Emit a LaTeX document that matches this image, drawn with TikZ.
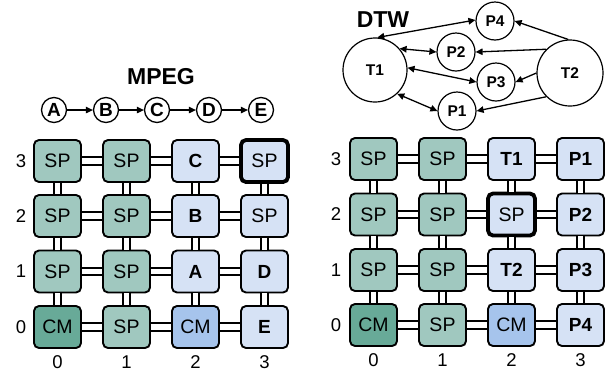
\documentclass[tikz,border=0pt]{standalone}
\usepackage{fontspec}
\setmainfont{Liberation Sans}
\usetikzlibrary{arrows.meta}

\definecolor{spgreen}{RGB}{160,200,191}
\definecolor{cmgreen}{RGB}{104,170,152}
\definecolor{tileblue}{RGB}{214,226,245}
\definecolor{cmblue}{RGB}{166,196,236}

\tikzset{
  tile/.style={draw=black, line width=1.9pt, rounded corners=5pt,
    minimum width=47pt, minimum height=42pt, inner sep=0pt,
    font=\fontsize{19.5}{21}\selectfont},
  sp/.style={tile, fill=spgreen},
  cmg/.style={tile, fill=cmgreen},
  lb/.style={tile, fill=tileblue},
  cmb/.style={tile, fill=cmblue},
  task/.style={font=\fontsize{19}{21}\selectfont\bfseries},
  hot/.style={line width=3.8pt},
  link/.style={draw=black, line width=1.9pt, double=white, double distance=5.6pt},
  axis/.style={font=\fontsize{18.5}{20}\selectfont},
  title/.style={font=\fontsize{23}{25}\selectfont\bfseries},
  stage/.style={circle, draw=black, line width=1.3pt, minimum size=25pt,
    inner sep=0pt, font=\fontsize{19}{21}\selectfont\bfseries},
  proc/.style={circle, draw=black, line width=1.2pt, inner sep=0pt,
    font=\fontsize{15.5}{17}\selectfont\bfseries},
  flow/.style={line width=1.3pt, -{Triangle[length=7pt,width=6.5pt]}},
  both/.style={line width=1.3pt, {Triangle[length=7pt,width=6.5pt]}-{Triangle[length=7pt,width=6.5pt]}},
}

\begin{document}
\begin{tikzpicture}[x=1pt,y=-1pt]
\useasboundingbox (0,0) rectangle (613,373);

% ---------------- MPEG pipeline ----------------
\node[title] (mpeg) at (161,77) {MPEG};
\node[stage] (sa) at (54,110) {A};
\node[stage] (sb) at (106,110) {B};
\node[stage] (sc) at (157,110) {C};
\node[stage] (sd) at (209,110) {D};
\node[stage] (se) at (261,110) {E};
\draw[flow] (sa) -- (sb);
\draw[flow] (sb) -- (sc);
\draw[flow] (sc) -- (sd);
\draw[flow] (sd) -- (se);

% ---------------- MPEG mesh ----------------
% columns x = 57.5, 126.5, 195.5, 264.5 ; rows y = 161, 216, 271.5, 327
\node[sp]  (l03) at (57.5,161) {SP};
\node[sp]  (l13) at (126.5,161) {SP};
\node[lb, task] (l23) at (195.5,161) {C};
\node[lb, hot] (l33) at (264.5,161) {SP};

\node[sp]  (l02) at (57.5,216) {SP};
\node[sp]  (l12) at (126.5,216) {SP};
\node[lb, task] (l22) at (195.5,216) {B};
\node[lb]  (l32) at (264.5,216) {SP};

\node[sp]  (l01) at (57.5,271.5) {SP};
\node[sp]  (l11) at (126.5,271.5) {SP};
\node[lb, task] (l21) at (195.5,271.5) {A};
\node[lb, task] (l31) at (264.5,271.5) {D};

\node[cmg] (l00) at (57.5,327) {CM};
\node[sp]  (l10) at (126.5,327) {SP};
\node[cmb] (l20) at (195.5,327) {CM};
\node[lb, task] (l30) at (264.5,327) {E};

\foreach \r in {0,...,3}{
  \draw[link] (l0\r.east) -- (l1\r.west);
  \draw[link] (l1\r.east) -- (l2\r.west);
  \draw[link] (l2\r.east) -- (l3\r.west);
}
\foreach \c in {0,...,3}{
  \draw[link] (l\c3.south) -- (l\c2.north);
  \draw[link] (l\c2.south) -- (l\c1.north);
  \draw[link] (l\c1.south) -- (l\c0.north);
}

\node[axis] (lr3) at (21,161) {3};
\node[axis] (lr2) at (21,216) {2};
\node[axis] (lr1) at (21,271.5) {1};
\node[axis] (lr0) at (21,327) {0};
\node[axis] (lc0) at (57.5,362) {0};
\node[axis] (lc1) at (126.5,362) {1};
\node[axis] (lc2) at (195.5,362) {2};
\node[axis] (lc3) at (264.5,362) {3};

% ---------------- DTW task graph ----------------
\node[title] (dtw) at (383,20) {DTW};
\node[proc, minimum size=64pt] (t1) at (375,70) {T1};
\node[proc, minimum size=66pt] (t2) at (570,73) {T2};
\node[proc, minimum size=38pt] (p4) at (495,21) {P4};
\node[proc, minimum size=38pt] (p2) at (456,52) {P2};
\node[proc, minimum size=38pt] (p3) at (496,82) {P3};
\node[proc, minimum size=38pt] (p1) at (457,111) {P1};

\draw[both] (t1.86) -- (p4.177);
\draw[both] (t1.41) -- (p2.west);
\draw[both] (t1.4) -- (p3.west);
\draw[both] (t1.-47) -- (p1.west);
\draw[flow] (t2.93) -- (p4.east);
\draw[flow] (t2.135) -- (p2.east);
\draw[flow] (t2.180) -- (p3.east);
\draw[flow] (t2.225) -- (p1.east);

% ---------------- DTW mesh ----------------
% columns x = 373.5, 442.5, 511.5, 580.5 ; rows y = 159, 214.5, 270, 325
\node[sp]  (r03) at (373.5,159) {SP};
\node[sp]  (r13) at (442.5,159) {SP};
\node[lb, task] (r23) at (511.5,159) {T1};
\node[lb, task] (r33) at (580.5,159) {P1};

\node[sp]  (r02) at (373.5,214.5) {SP};
\node[sp]  (r12) at (442.5,214.5) {SP};
\node[lb, hot] (r22) at (511.5,214.5) {SP};
\node[lb, task] (r32) at (580.5,214.5) {P2};

\node[sp]  (r01) at (373.5,270) {SP};
\node[sp]  (r11) at (442.5,270) {SP};
\node[lb, task] (r21) at (511.5,270) {T2};
\node[lb, task] (r31) at (580.5,270) {P3};

\node[cmg] (r00) at (373.5,325) {CM};
\node[sp]  (r10) at (442.5,325) {SP};
\node[cmb] (r20) at (511.5,325) {CM};
\node[lb, task] (r30) at (580.5,325) {P4};

\foreach \r in {0,...,3}{
  \draw[link] (r0\r.east) -- (r1\r.west);
  \draw[link] (r1\r.east) -- (r2\r.west);
  \draw[link] (r2\r.east) -- (r3\r.west);
}
\foreach \c in {0,...,3}{
  \draw[link] (r\c3.south) -- (r\c2.north);
  \draw[link] (r\c2.south) -- (r\c1.north);
  \draw[link] (r\c1.south) -- (r\c0.north);
}

\node[axis] (rr3) at (336,159) {3};
\node[axis] (rr2) at (336,214.5) {2};
\node[axis] (rr1) at (336,270) {1};
\node[axis] (rr0) at (336,325) {0};
\node[axis] (rc0) at (373.5,360) {0};
\node[axis] (rc1) at (442.5,360) {1};
\node[axis] (rc2) at (511.5,360) {2};
\node[axis] (rc3) at (580.5,360) {3};
\end{tikzpicture}
\end{document}
